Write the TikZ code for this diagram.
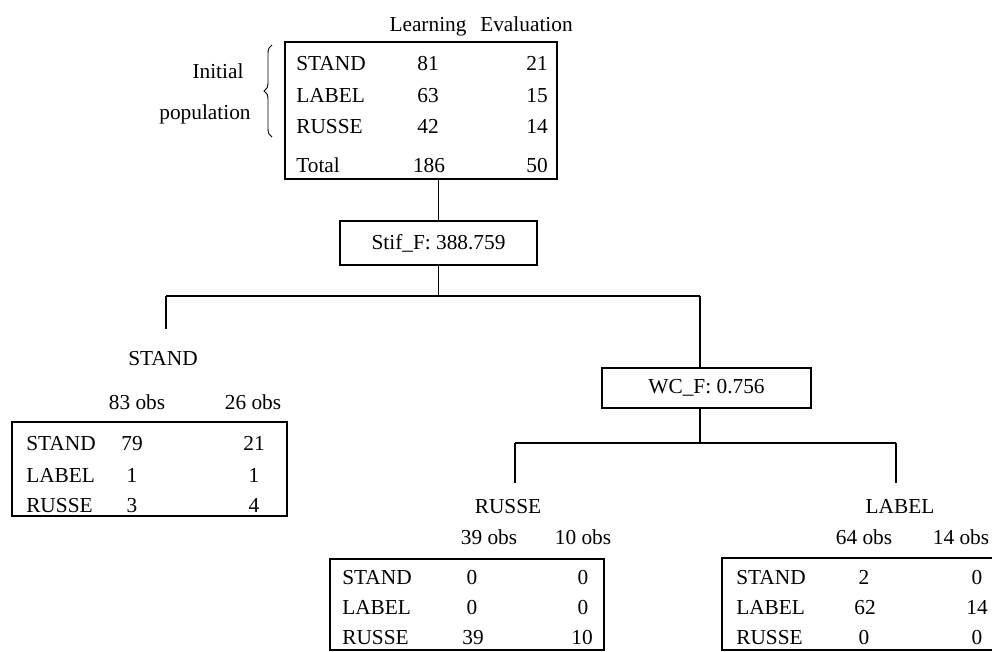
\documentclass[tikz,border=0pt]{standalone}
\usepackage{fontspec}
\setmainfont{Liberation Serif}
\usetikzlibrary{decorations.pathreplacing}
\begin{document}
\begin{tikzpicture}[x=0.75pt,y=-0.75pt,
  txt/.style={inner sep=0pt, font=\fontsize{16}{19}\selectfont},
  tbl/.style={draw, line width=0.9pt, rectangle, inner sep=0pt},
  conn/.style={line width=0.9pt}]
\useasboundingbox (0,0) rectangle (992,651);
% top table
\node[tbl, minimum width=204pt, minimum height=102.75pt] (T) at (421,110.5) {};
\node[txt, anchor=base] (hl) at (428,31) {Learning};
\node[txt, anchor=base west] (he) at (480,31) {Evaluation};
\node[txt, anchor=base] (ini) at (218,78) {Initial};
\node[txt, anchor=base] (pop) at (205,119) {population};
\draw[line width=0.7pt, decorate, decoration={brace, amplitude=6pt}] (272,137) -- (272,45);
\node[txt, anchor=base west] (t1a) at (296,70) {STAND};
\node[txt, anchor=base] (t1b) at (428,70) {81};
\node[txt, anchor=base] (t1c) at (537,70) {21};
\node[txt, anchor=base west] (t2a) at (296,102) {LABEL};
\node[txt, anchor=base] (t2b) at (428,102) {63};
\node[txt, anchor=base] (t2c) at (537,102) {15};
\node[txt, anchor=base west] (t3a) at (296,133) {RUSSE};
\node[txt, anchor=base] (t3b) at (428,133) {42};
\node[txt, anchor=base] (t3c) at (537,133) {14};
\node[txt, anchor=base west] (t4a) at (296,172) {Total};
\node[txt, anchor=base] (t4b) at (429,172) {186};
\node[txt, anchor=base] (t4c) at (537,172) {50};
% split 1
\node[tbl, minimum width=147.75pt, minimum height=33pt, txt] (S) at (438.5,243) {Stif\_F: 388.759};
\draw[conn] (T.south -| S.north) -- (S.north);
\coordinate (jL) at (166,296);
\coordinate (jR) at (700,296);
\coordinate (eL) at (166,329);
\draw[conn] (S.south) -- (S.south |- jL);
\draw[conn] (jL) -- (jR);
\draw[conn] (jL) -- (eL);
% left leaf
\node[txt, anchor=base] (lS) at (163,365) {STAND};
\node[txt, anchor=base] (lo1) at (137,409) {83 obs};
\node[txt, anchor=base] (lo2) at (253,409) {26 obs};
\node[tbl, minimum width=206.25pt, minimum height=70.5pt] (L) at (149.5,469) {};
\node[txt, anchor=base west] (l1a) at (26,450) {STAND};
\node[txt, anchor=base] (l1b) at (132,450) {79};
\node[txt, anchor=base] (l1c) at (254,450) {21};
\node[txt, anchor=base west] (l2a) at (26,482) {LABEL};
\node[txt, anchor=base] (l2b) at (132,482) {1};
\node[txt, anchor=base] (l2c) at (254,482) {1};
\node[txt, anchor=base west] (l3a) at (26,512) {RUSSE};
\node[txt, anchor=base] (l3b) at (132,512) {3};
\node[txt, anchor=base] (l3c) at (254,512) {4};
% split 2
\node[tbl, minimum width=156.75pt, minimum height=30pt, txt] (W) at (706.5,388) {WC\_F: 0.756};
\draw[conn] (jR) -- (jR |- W.north);
\coordinate (kL) at (515,443);
\coordinate (kR) at (896,443);
\coordinate (fL) at (515,483);
\coordinate (fR) at (896,483);
\draw[conn] (W.south -| jR) -- (jR |- kL);
\draw[conn] (kL) -- (kR);
\draw[conn] (kL) -- (fL);
\draw[conn] (kR) -- (fR);
% russe leaf
\node[txt, anchor=base] (rR) at (508,513) {RUSSE};
\node[txt, anchor=base] (ro1) at (489,544) {39 obs};
\node[txt, anchor=base] (ro2) at (583,544) {10 obs};
\node[tbl, minimum width=205.5pt, minimum height=68.25pt] (R) at (467,604.5) {};
\node[txt, anchor=base west] (r1a) at (342,584) {STAND};
\node[txt, anchor=base] (r1b) at (472,584) {0};
\node[txt, anchor=base] (r1c) at (583,584) {0};
\node[txt, anchor=base west] (r2a) at (342,614) {LABEL};
\node[txt, anchor=base] (r2b) at (472,614) {0};
\node[txt, anchor=base] (r2c) at (583,614) {0};
\node[txt, anchor=base west] (r3a) at (342,644) {RUSSE};
\node[txt, anchor=base] (r3b) at (473,644) {39};
\node[txt, anchor=base] (r3c) at (582,644) {10};
% label leaf
\node[txt, anchor=base] (bL) at (900,513) {LABEL};
\node[txt, anchor=base] (bo1) at (864,544) {64 obs};
\node[txt, anchor=base] (bo2) at (961,544) {14 obs};
\node[tbl, minimum width=208.5pt, minimum height=69pt] (B) at (861,604) {};
\node[txt, anchor=base west] (b1a) at (736,584) {STAND};
\node[txt, anchor=base] (b1b) at (864,584) {2};
\node[txt, anchor=base] (b1c) at (977,584) {0};
\node[txt, anchor=base west] (b2a) at (736,614) {LABEL};
\node[txt, anchor=base] (b2b) at (865,614) {62};
\node[txt, anchor=base] (b2c) at (977,614) {14};
\node[txt, anchor=base west] (b3a) at (736,644) {RUSSE};
\node[txt, anchor=base] (b3b) at (864,644) {0};
\node[txt, anchor=base] (b3c) at (977,644) {0};
\end{tikzpicture}
\end{document}
